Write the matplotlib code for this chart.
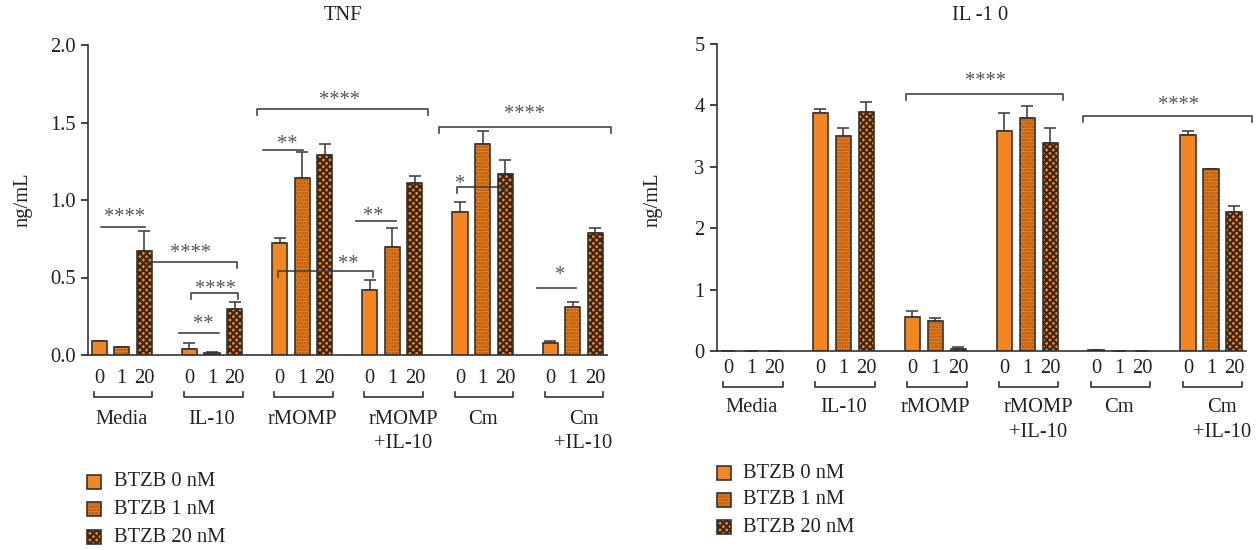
import numpy as np
import matplotlib
matplotlib.use('Agg')
import matplotlib.pyplot as plt
from matplotlib.patches import Rectangle

plt.rcParams['font.family'] = ['Liberation Serif', 'DejaVu Serif']
plt.rcParams['font.size'] = 14.8
plt.rcParams['hatch.linewidth'] = 1.5

W, H = 1260, 550

groups = ['Media', 'IL-10', 'rMOMP', 'rMOMP\n+IL-10', 'Cm', 'Cm\n+IL-10']
doses = ['0', '1', '20']
legend_labels = ['BTZB 0 nM', 'BTZB 1 nM', 'BTZB 20 nM']

# TNF (ng/mL), rows = BTZB dose, columns = groups
tnf_0 = [0.09, 0.04, 0.72, 0.42, 0.92, 0.08]
tnf_1 = [0.05, 0.01, 1.14, 0.70, 1.36, 0.31]
tnf_20 = [0.67, 0.30, 1.29, 1.11, 1.17, 0.79]
tnf_err_0 = [0.0, 0.04, 0.035, 0.065, 0.07, 0.01]
tnf_err_1 = [0.0, 0.008, 0.17, 0.12, 0.085, 0.03]
tnf_err_20 = [0.13, 0.045, 0.07, 0.045, 0.09, 0.03]

# IL-10 (ng/mL)
il10_0 = [0.0, 3.88, 0.55, 3.59, 0.02, 3.52]
il10_1 = [0.0, 3.50, 0.49, 3.80, 0.0, 2.96]
il10_20 = [0.0, 3.90, 0.03, 3.38, 0.0, 2.27]
il10_err_0 = [0.0, 0.06, 0.10, 0.29, 0.0, 0.06]
il10_err_1 = [0.0, 0.13, 0.04, 0.19, 0.0, 0.0]
il10_err_20 = [0.0, 0.16, 0.03, 0.26, 0.0, 0.09]

# significance marks: x0, x1, y, kind, label, text x, text y
tnf_sig = [
    (-0.233, 0.255, 0.826, 'line', '****', 0.033, 0.923),
    (0.274, 1.275, 0.600, 'bracket', '****', 0.765, 0.690),
    (0.762, 1.286, 0.400, 'bracket', '****', 1.042, 0.458),
    (0.632, 1.075, 0.144, 'line', '**', 0.898, 0.232),
    (1.497, 3.392, 1.589, 'bracket', '****', 2.417, 1.677),
    (1.563, 2.007, 1.325, 'line', '**', 1.835, 1.394),
    (1.737, 2.783, 0.544, 'bracket', '**', 2.506, 0.619),
    (2.594, 3.038, 0.866, 'line', '**', 2.783, 0.929),
    (3.514, 5.421, 1.471, 'bracket', '****', 4.468, 1.587),
    (3.714, 4.246, 1.086, 'bracket', '*', 3.747, 1.135),
    (4.601, 5.033, 0.434, 'line', '*', 4.864, 0.544),
]
il10_sig = [
    (1.678, 3.390, 4.19, 'bracket', '****', 2.541, 4.467),
    (3.604, 5.446, 3.827, 'bracket', '****', 4.641, 4.077),
]

ORANGE = '#F3861F'
EDGE = '#333333'
bar_styles = [(None, ORANGE), ('.....', '#a4500c'), ('xxxxx', '#3a2412')]


def px(x, y):
    return x / W, 1 - y / H


def draw_panel(ax, vals, errs, ymax, yticks, yfmt, sig, tick_drop, xpad,
               br_y, lab_y, lab_dy):
    x = np.arange(len(groups))
    width = 0.167
    for i in range(3):
        xi = x + (i - 1) * 0.25
        hatch, hc = bar_styles[i]
        ax.bar(xi, vals[i], width, color=ORANGE, edgecolor=hc, hatch=hatch,
               linewidth=0, zorder=2)
        ax.bar(xi, vals[i], width, fill=False, edgecolor=EDGE, linewidth=1.2,
               zorder=3)
        ax.errorbar(xi, vals[i], yerr=[np.zeros(len(x)), errs[i]], fmt='none',
                    ecolor='#444444', elinewidth=1.2, capsize=4, capthick=1.2,
                    zorder=1)

    ax.set_xlim(-0.375, 5.38)
    ax.set_ylim(0, ymax)
    ax.set_yticks(yticks)
    ax.set_yticklabels([yfmt.format(t) for t in yticks])
    pos = np.concatenate([x + (i - 1) * 0.25 for i in range(3)])
    labs = [doses[i] for i in range(3) for _ in x]
    ax.set_xticks(pos)
    ax.set_xticklabels(labs)
    ax.tick_params(axis='x', length=0, pad=xpad, colors='#222222')
    ax.tick_params(axis='y', length=5, width=1.2, pad=4, colors='#222222')
    for s in ['top', 'right']:
        ax.spines[s].set_visible(False)
    for s in ['left', 'bottom']:
        ax.spines[s].set_color(EDGE)
        ax.spines[s].set_linewidth(1.2)

    # group brackets and names under the axis
    tr = ax.get_xaxis_transform()
    for g, name in enumerate(groups):
        x0, x1 = g - 0.31, g + 0.34
        ax.plot([x0, x0, x1, x1], [br_y + 0.016, br_y, br_y, br_y + 0.016],
                transform=tr, color=EDGE, lw=1.2, clip_on=False)
        lines = name.split('\n')
        shift = 0.12 if len(lines) > 1 else 0
        for k, line in enumerate(lines):
            ax.text(g + shift, lab_y - k * lab_dy, line, transform=tr,
                    ha='center', va='baseline', color='#222222')

    # significance
    for x0, x1, y, kind, lab, tx, ty in sig:
        if kind == 'bracket':
            ax.plot([x0, x0, x1, x1], [y - tick_drop, y, y, y - tick_drop],
                    color='#444444', lw=1.2, clip_on=False)
        else:
            ax.plot([x0, x1], [y, y], color='#444444', lw=1.2, clip_on=False)
        ax.annotate(lab, (tx, ty), xytext=(0, -7), textcoords='offset points',
                    ha='center', va='baseline', color='#555555',
                    annotation_clip=False)


fig = plt.figure(figsize=(12.6, 5.5), dpi=100)

ax1 = fig.add_axes([88 / W, 1 - 355 / H, 519 / W, 310 / H])
draw_panel(ax1, [tnf_0, tnf_1, tnf_20], [tnf_err_0, tnf_err_1, tnf_err_20],
           2.0, [0, 0.5, 1.0, 1.5, 2.0], '{:.1f}', tnf_sig, 0.039, 10,
           -0.135, -0.221, 0.079)

ax2 = fig.add_axes([717 / W, 1 - 351 / H, 529 / W, 307 / H])
draw_panel(ax2, [il10_0, il10_1, il10_20], [il10_err_0, il10_err_1, il10_err_20],
           5, [0, 1, 2, 3, 4, 5], '{:.0f}', il10_sig, 0.1, 5.5,
           -0.117, -0.2, 0.08)

fig.text(*px(343, 16), 'TNF', ha='center', va='center', color='#222222')
fig.text(*px(980, 16), 'IL -1 0', ha='center', va='center', color='#222222')
fig.text(*px(23, 200), 'ng/mL', rotation=90, ha='center', va='center',
         color='#222222')
fig.text(*px(653, 200), 'ng/mL', rotation=90, ha='center', va='center',
         color='#222222')

# legends
for lx, tx, rows in [(87, 114, [482, 509, 537]), (717, 743, [473, 500, 527])]:
    for i, ry in enumerate(rows):
        hatch, hc = bar_styles[i]
        x0, y0 = px(lx, ry + 7)
        r1 = Rectangle((x0, y0), 14 / W, 14 / H, transform=fig.transFigure,
                       facecolor=ORANGE, edgecolor=hc, hatch=hatch, linewidth=0)
        r2 = Rectangle((x0, y0), 14 / W, 14 / H, transform=fig.transFigure,
                       fill=False, edgecolor=EDGE, linewidth=1.2)
        fig.add_artist(r1)
        fig.add_artist(r2)
        fig.text(*px(tx, ry), legend_labels[i], ha='left', va='center',
                 color='#222222')

fig.savefig('out.png', dpi=100)
